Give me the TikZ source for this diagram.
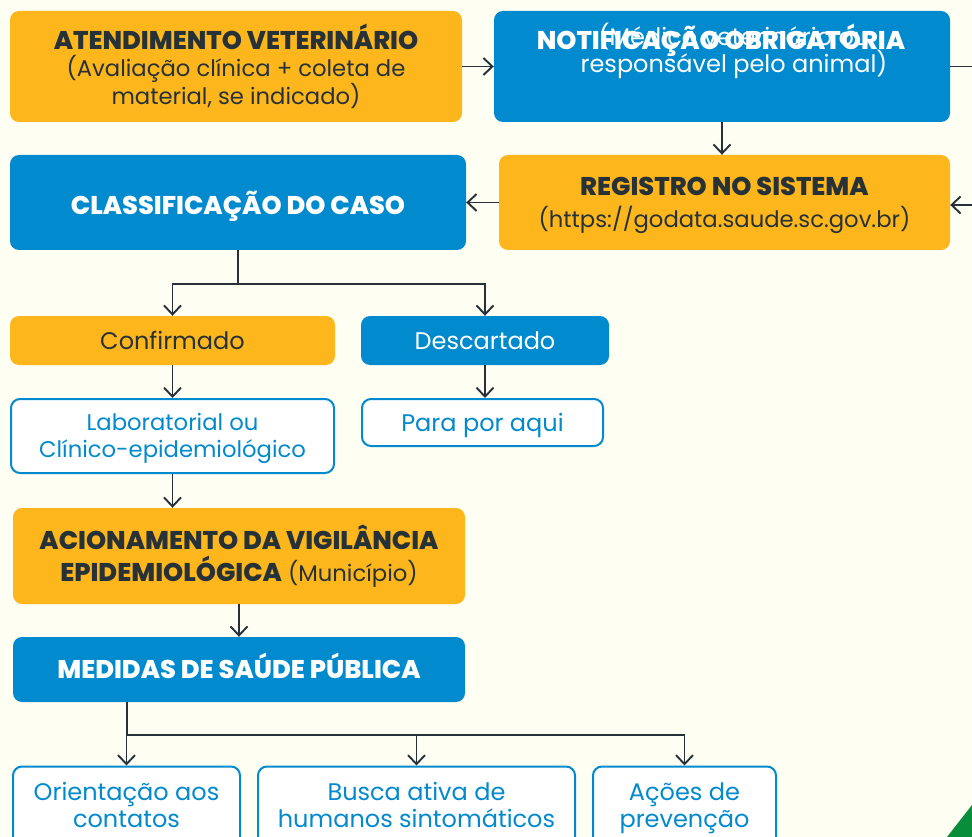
\documentclass[tikz,border=0pt]{standalone}
\usepackage{fontspec}
\setmainfont{Poppins}[BoldFont={* ExtraBold}]
\usetikzlibrary{arrows.meta, positioning}
\definecolor{bgcream}{RGB}{254, 254, 243}
\definecolor{boxorange}{RGB}{253, 182, 27}
\definecolor{boxblue}{RGB}{2, 138, 206}
\definecolor{inkdark}{RGB}{38, 50, 56}
\definecolor{cornergreen}{RGB}{8, 142, 58}
\newcommand{\boxtitle}{\fontsize{25.6}{28}\selectfont\bfseries}
\newcommand{\boxsmall}{\fontsize{22.7}{27}\selectfont}

\begin{document}
\begin{tikzpicture}[x=1pt, y=-1pt,
  box/.style={rectangle, rounded corners=9pt, inner sep=0pt, align=center,
    font=\fontsize{24}{27}\selectfont},
  orangebox/.style={box, fill=boxorange, text=inkdark},
  bluebox/.style={box, fill=boxblue, text=white},
  outlinebox/.style={box, fill=white, draw=boxblue, line width=2pt, text=boxblue},
  capsonly/.style={text height=17.5pt, text depth=0pt},
  flow/.style={-{Straight Barb[length=9pt, width=17pt]}, line width=1.9pt, draw=inkdark},
  link/.style={line width=1.9pt, draw=inkdark},
]
  % Page and background
  \useasboundingbox (0,0) rectangle (972,837);
  \fill[bgcream] (0,0) rectangle (972,837);
  \fill[cornergreen] (947,837) -- (972,805) -- (972,837) -- cycle;

  % Row 1: care and notification
  \node[orangebox, minimum width=452pt, minimum height=111pt, font=\boxsmall] (atend) at (236,66.5)
    {{\boxtitle ATENDIMENTO VETERINÁRIO}\\(Avaliação clínica + coleta de\\material, se indicado)};
  \node[bluebox, minimum width=456pt, minimum height=111pt] (notif) at (722,66.5) {};
  \node[box, text=white] (notifnote) at (734,50.5)
    {(Médico veterinário ou\\responsável pelo animal)};
  \node[box, text=white, font=\boxtitle] (notiftitle) at (721,40) {NOTIFICAÇÃO OBRIGATÓRIA};

  % Row 2: registration and classification
  \node[orangebox, minimum width=451pt, minimum height=95pt, font=\boxsmall, text depth=-3pt]
    (regis) at (724.5,202.5)
    {{\boxtitle REGISTRO NO SISTEMA}\\[5pt](https://godata.saude.sc.gov.br)};
  \node[bluebox, capsonly, text height=23.5pt, minimum width=456pt, minimum height=95pt, font=\boxtitle]
    (classif) at (238,202.5) {CLASSIFICAÇÃO DO CASO};

  % Row 3: outcome of the case
  \node[orangebox, minimum width=325pt, minimum height=49pt] (confirm) at (172.5,340.5) {Confirmado};
  \node[bluebox, minimum width=248pt, minimum height=49pt] (descart) at (485,340.5) {Descartado};
  \node[outlinebox, minimum width=323pt, minimum height=74pt, font=\boxsmall, text depth=2pt]
    (labor) at (172.5,436) {Laboratorial ou\\Clínico-epidemiológico};
  \node[outlinebox, minimum width=241pt, minimum height=47pt, text height=18pt, text depth=0pt]
    (parar) at (482.5,422.5) {Para por aqui};

  % Row 4: surveillance and public health
  \node[orangebox, minimum width=452pt, minimum height=96pt, font=\boxsmall] (acion) at (239,556)
    {{\boxtitle ACIONAMENTO DA VIGILÂNCIA}\\[5pt]{\boxtitle EPIDEMIOLÓGICA} (Município)};
  \node[bluebox, capsonly, minimum width=452pt, minimum height=65pt, font=\boxtitle]
    (medidas) at (239,669.5) {MEDIDAS DE SAÚDE PÚBLICA};

  % Row 5: actions (cut by the page edge)
  \node[outlinebox, minimum width=227pt, minimum height=84pt, text depth=7pt] (orient) at (126.5,808.5)
    {Orientação aos\\contatos};
  \node[outlinebox, minimum width=317pt, minimum height=84pt, text depth=7pt] (busca) at (416.5,808.5)
    {Busca ativa de\\humanos sintomáticos};
  \node[outlinebox, minimum width=183pt, minimum height=84pt, text depth=7pt] (acoes) at (684.5,808.5)
    {Ações de\\prevenção};

  % Connectors
  \coordinate (nout) at (972,66.5);
  \coordinate (rin) at (972,205);
  \coordinate (cfork) at (238,284);
  \coordinate (mfork) at (127,735);

  \draw[flow] (atend.east) -- (notif.west);
  \draw[link] (notif.east) -- (nout);
  \draw[flow] (notif.south) -- (notif.south |- regis.north);
  \draw[flow] (rin) -- (regis.east |- rin);
  \draw[flow] (regis.west) -- (classif.east);

  \draw[link] (classif.south) -- (cfork);
  \draw[flow] (cfork) -| (confirm.north);
  \draw[flow] (cfork) -| (descart.north);
  \draw[flow] (confirm.south) -- (labor.north);
  \draw[flow] (descart.south) -- (descart.south |- parar.north);
  \draw[flow] (labor.south) -- (labor.south |- acion.north);
  \draw[flow] (acion.south) -- (medidas.north);

  \draw[link] (medidas.south -| mfork) -- (mfork);
  \draw[flow] (mfork) -| (orient.north);
  \draw[flow] (mfork) -| (busca.north);
  \draw[flow] (mfork) -| (acoes.north);

\end{tikzpicture}
\end{document}
